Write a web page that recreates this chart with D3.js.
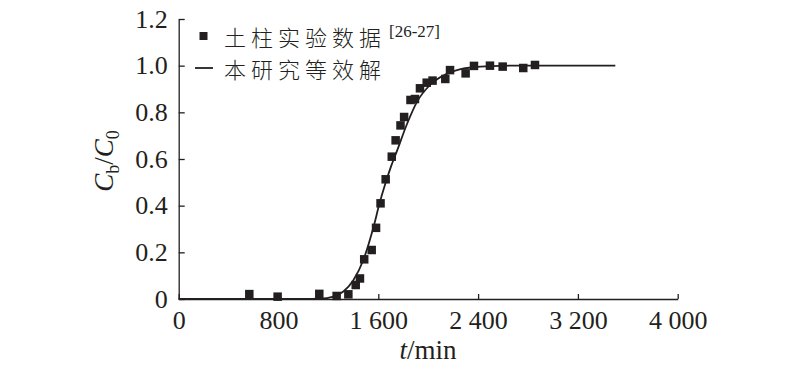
<!DOCTYPE html>
<html><head><meta charset="utf-8">
<script src="https://cdn.jsdelivr.net/npm/d3@7"></script>
<style>body{margin:0;background:#fff}svg{display:block}</style>
</head><body>
<svg id="c" width="800" height="369"></svg>
<script>
// experimental data (t in min, Cb/C0)
const expT = [566,793,1127,1266,1360,1419,1453,1487,1547,1582,1618,1659,1708,1739,1778,1807,1858,1894,1934,1988,2035,2137,2175,2300,2367,2495,2597,2762,2856];
const expC = [0.021,0.01,0.022,0.013,0.02,0.06,0.088,0.17,0.21,0.305,0.41,0.513,0.61,0.68,0.744,0.78,0.853,0.857,0.903,0.927,0.936,0.943,0.981,0.967,0.999,1.0,0.996,0.99,1.003];
// equivalent solution curve
const curveT = [0,800,1000,1133,1240,1320,1400,1480,1560,1610,1660,1700,1750,1830,1910,2010,2150,2260,2360,2500,2700,3500];
const curveC = [0,0,0,0.001,0.01,0.032,0.08,0.167,0.305,0.41,0.5,0.565,0.635,0.75,0.845,0.915,0.965,0.985,0.993,0.998,1,1];
const xTicks = [0,800,1600,2400,3200,4000];
const xTickLabels = ["0","800","1 600","2 400","3 200","4 000"];
const yTicks = [0,0.2,0.4,0.6,0.8,1.0,1.2];
const yTickLabels = ["0","0.2","0.4","0.6","0.8","1.0","1.2"];
const legendLabels = ["土柱实验数据","本研究等效解"];
const legendRef = "[26-27]";

const svg = d3.select("#c");
const x = d3.scaleLinear().domain([0,4000]).range([178.7,677.7]);
const y = d3.scaleLinear().domain([0,1.2]).range([299,19]);
const ink = "#231f20";
const serif = "'Liberation Serif','Times New Roman',serif";
const cjk = "'Noto Sans CJK SC','Noto Sans CJK JP',sans-serif";

// x axis
const xa = svg.append("g").attr("transform",`translate(0,${y(0)})`)
  .call(d3.axisBottom(x).tickValues(xTicks).tickSizeInner(-5).tickSizeOuter(0)
    .tickFormat((d,i)=>xTickLabels[i]));
xa.select(".domain").attr("stroke",ink).attr("stroke-width",1.3);
xa.selectAll(".tick line").attr("stroke",ink).attr("stroke-width",1.3);
xa.selectAll(".tick text").attr("font-family",serif).attr("font-size",26).attr("fill",ink).attr("y",12).attr("dy","0.71em");

// y axis
const ya = svg.append("g").attr("transform",`translate(${x(0)},0)`)
  .call(d3.axisLeft(y).tickValues(yTicks).tickSizeInner(-6).tickSizeOuter(0)
    .tickFormat((d,i)=>yTickLabels[i]));
ya.select(".domain").attr("stroke",ink).attr("stroke-width",1.3);
ya.selectAll(".tick line").attr("stroke",ink).attr("stroke-width",1.3);
ya.selectAll(".tick text").attr("font-family",serif).attr("font-size",26).attr("fill",ink).attr("x",-11);

// curve
const line = d3.line().x(d=>x(d[0])).y(d=>y(d[1])).curve(d3.curveMonotoneX);
svg.append("path").datum(curveT.map((t,i)=>[t,curveC[i]]))
  .attr("d",line).attr("fill","none").attr("stroke",ink).attr("stroke-width",1.8);

// points
const s = 8.5;
svg.append("g").selectAll("rect").data(expT.map((t,i)=>[t,expC[i]])).join("rect")
  .attr("x",d=>x(d[0])-s/2).attr("y",d=>y(d[1])-s/2).attr("width",s).attr("height",s)
  .attr("fill",ink);

// legend
const lg = svg.append("g");
lg.append("rect").attr("x",203.5-4).attr("y",36-4).attr("width",8).attr("height",8).attr("fill",ink);
lg.append("line").attr("x1",195).attr("x2",213).attr("y1",68).attr("y2",68).attr("stroke",ink).attr("stroke-width",1.8);
lg.append("text").attr("x",224).attr("y",46).attr("font-family",cjk).attr("font-size",22)
  .attr("font-weight",300).attr("letter-spacing",5).attr("fill",ink).text(legendLabels[0]);
lg.append("text").attr("x",389).attr("y",37).attr("font-family",serif).attr("font-size",17)
  .attr("fill",ink).text(legendRef);
lg.append("text").attr("x",224).attr("y",78).attr("font-family",cjk).attr("font-size",22)
  .attr("font-weight",300).attr("letter-spacing",5).attr("fill",ink).text(legendLabels[1]);

// y title
const yt = svg.append("text").attr("transform","translate(113,161) rotate(-90)")
  .attr("text-anchor","middle").attr("font-family",serif).attr("font-size",27).attr("fill",ink);
yt.append("tspan").attr("font-style","italic").text("C");
yt.append("tspan").attr("font-size",18).attr("dy",6).text("b");
yt.append("tspan").attr("dy",-6).text("/");
yt.append("tspan").attr("font-style","italic").text("C");
yt.append("tspan").attr("font-size",18).attr("dy",6).text("0");

// x title
const xt = svg.append("text").attr("x",428).attr("y",359).attr("text-anchor","middle")
  .attr("font-family",serif).attr("font-size",27).attr("fill",ink);
xt.append("tspan").attr("font-style","italic").text("t");
xt.append("tspan").text("/min");
</script>
</body></html>
